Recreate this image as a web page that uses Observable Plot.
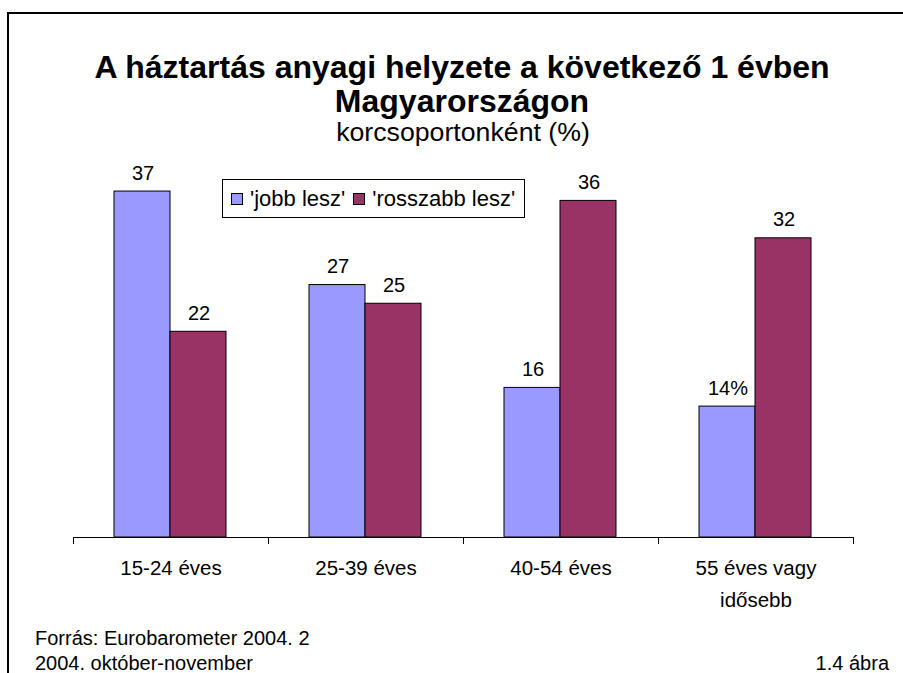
<!DOCTYPE html>
<html>
<head>
<meta charset="utf-8">
<script src="https://cdn.jsdelivr.net/npm/d3@7"></script>
<script src="https://cdn.jsdelivr.net/npm/@observablehq/plot@0.6"></script>
<style>
  html, body { margin: 0; padding: 0; background: #fff; }
  body { font-family: "Liberation Sans", Arial, sans-serif; color: #000; }
  #wrap { position: relative; width: 903px; height: 673px; overflow: hidden; background: #fff; }
  #chart { position: absolute; left: 0; top: 0; }
  #frame { position: absolute; left: 7px; top: 12px; width: 1000px; height: 1000px;
           border-top: 2px solid #000; border-left: 2px solid #000; pointer-events: none; }
  .title { position: absolute; left: 0; width: 924px; text-align: center; font-weight: bold;
           font-size: 32px; line-height: 34px; top: 50px; }
  .subtitle { position: absolute; left: 0; width: 926px; text-align: center;
              font-size: 26.7px; line-height: 30px; top: 117px; }
  #legend { position: absolute; left: 222px; top: 179px; width: 301px; height: 37px;
            border: 1px solid #000; background: #fff; display: flex; align-items: center;
            font-size: 22px; white-space: nowrap; }
  #legend .item { display: flex; align-items: center; }
  #legend .sw { display: inline-block; width: 10px; height: 10px; border: 1px solid #000;
                margin-left: 8px; margin-right: 7px; }
  .foot { position: absolute; font-size: 20px; line-height: 24px; white-space: nowrap; }
</style>
</head>
<body>
<div id="wrap">
  <div id="chart"></div>
  <div id="frame"></div>
  <div class="title" id="title"></div>
  <div class="subtitle" id="subtitle"></div>
  <div id="legend"></div>
  <div class="foot" id="src1" style="left:35px; top:626px;"></div>
  <div class="foot" id="src2" style="left:35px; top:651px;"></div>
  <div class="foot" id="fig" style="right:14px; top:651px; text-align:right;"></div>
</div>
<script>
// ---- Data ----
const titleLines = ["A háztartás anyagi helyzete a következő 1 évben", "Magyarországon"];
const subtitleText = "korcsoportonként (%)";
const categories = ["15-24 éves", "25-39 éves", "40-54 éves", "55 éves vagy\nidősebb"];
const seriesNames = ["'jobb lesz'", "'rosszabb lesz'"];
const seriesColors = ["#9999FF", "#993366"];
const jobbValues = [37, 27, 16, 14];
const rosszabbValues = [22, 25, 36, 32];
const jobbLabels = ["37", "27", "16", "14%"];
const rosszabbLabels = ["22", "25", "36", "32"];
const sourceLines = ["Forrás: Eurobarometer 2004. 2", "2004. október-november"];
const figureLabel = "1.4 ábra";

// ---- Build tables ----
const jobbData = categories.map((c, i) => ({cat: c, v: jobbValues[i], label: jobbLabels[i]}));
const rosszData = categories.map((c, i) => ({cat: c, v: rosszabbValues[i], label: rosszabbLabels[i]}));

const font = "'Liberation Sans', Arial, sans-serif";

const chart = Plot.plot({
  width: 903,
  height: 673,
  marginLeft: 73,
  marginRight: 50,
  marginTop: 163,
  marginBottom: 136,
  style: {background: "transparent", fontFamily: font, fontSize: "20px", color: "#000", overflow: "visible"},
  x: {domain: categories, padding: 0, axis: null, round: false, label: null},
  y: {domain: [0, 40], axis: null},
  marks: [
    Plot.barY(jobbData, {x: "cat", y: "v", fill: seriesColors[0], stroke: "#000", strokeWidth: 1,
                         insetLeft: 41, insetRight: 98}),
    Plot.barY(rosszData, {x: "cat", y: "v", fill: seriesColors[1], stroke: "#000", strokeWidth: 1,
                          insetLeft: 97, insetRight: 42}),
    Plot.text(jobbData, {x: "cat", y: "v", text: "label", dx: -28, dy: -12, lineAnchor: "bottom",
                         fontSize: 20, fill: "#000"}),
    Plot.text(rosszData, {x: "cat", y: "v", text: "label", dx: 28, dy: -12, lineAnchor: "bottom",
                          fontSize: 20, fill: "#000"}),
    Plot.ruleY([0], {stroke: "#000", strokeWidth: 1}),
    Plot.axisX(categories, {tickSize: 7, tickFormat: () => "", label: null, dx: -97.5, stroke: "#000"}),
    Plot.axisX([categories[categories.length - 1]], {tickSize: 7, tickFormat: () => "", label: null, dx: 97.5, stroke: "#000"}),
    Plot.text(categories, {x: d => d, frameAnchor: "bottom", lineAnchor: "top", dy: 15,
                           fontSize: 20.5, lineHeight: 1.56, fill: "#000"})
  ]
});
document.getElementById("chart").appendChild(chart);

// ---- Texts ----
document.getElementById("title").innerHTML = titleLines.map(t => `<div>${t}</div>`).join("");
document.getElementById("subtitle").textContent = subtitleText;
document.getElementById("src1").textContent = sourceLines[0];
document.getElementById("src2").textContent = sourceLines[1];
document.getElementById("fig").textContent = figureLabel;

// ---- Legend ----
const legend = document.getElementById("legend");
seriesNames.forEach((name, i) => {
  const item = document.createElement("span");
  item.className = "item";
  const sw = document.createElement("span");
  sw.className = "sw";
  sw.style.background = seriesColors[i];
  const lab = document.createElement("span");
  lab.textContent = name;
  item.appendChild(sw);
  item.appendChild(lab);
  legend.appendChild(item);
});
</script>
</body>
</html>
